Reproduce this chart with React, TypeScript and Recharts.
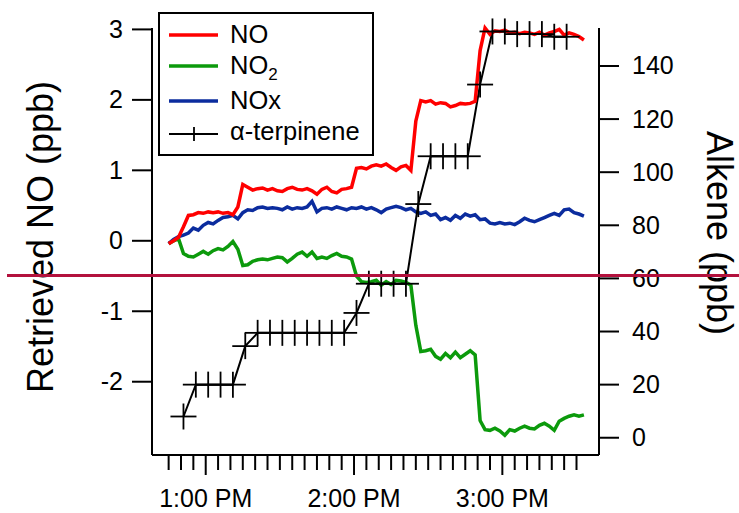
import React from 'react';
import { LineChart, Line, XAxis, YAxis } from 'recharts';

// minutes after 12:00 PM
const TIME = [
  45, 47, 49, 51, 53, 55, 57, 59, 61, 63,
  65, 67, 69, 71, 73, 75, 77, 79, 81, 83,
  85, 87, 89, 91, 93, 95, 97, 99, 101, 103,
  105, 107, 109, 111, 113, 115, 117, 119, 121, 123,
  125, 127, 129, 131, 133, 135, 137, 139, 141, 143,
  145, 147, 149, 151, 153, 155, 157, 159, 161, 163,
  165, 167, 169, 171, 173, 175, 177, 179, 181, 183,
  185, 187, 189, 191, 193, 195, 197, 199, 201, 203,
  205, 207, 209, 211, 213,
];

const NO = [
  -0.04, 0.0, 0.05, 0.2, 0.36, 0.37, 0.4, 0.39, 0.41, 0.4,
  0.41, 0.39, 0.4, 0.37, 0.48, 0.8, 0.76, 0.72, 0.74, 0.75,
  0.72, 0.74, 0.71, 0.7, 0.74, 0.76, 0.73, 0.72, 0.74, 0.71,
  0.66, 0.73, 0.76, 0.7, 0.68, 0.73, 0.74, 0.76, 1.03, 1.04,
  1.02, 1.06, 1.08, 1.06, 1.09, 1.04, 1.0, 1.05, 1.07, 1.0,
  1.7, 1.99, 1.97, 1.99, 1.94, 1.96, 1.95, 1.9, 1.92, 1.95,
  1.94, 1.95, 1.98, 2.7, 3.02, 2.93, 2.98, 2.97, 2.99, 2.95,
  2.96, 2.94, 2.96, 2.95, 2.93, 2.96, 2.92, 2.95, 2.97, 3.0,
  2.92, 2.95, 2.93, 2.9, 2.85,
];

const NO2 = [
  -0.04, 0.0, 0.03, -0.18, -0.22, -0.23, -0.19, -0.15, -0.19, -0.14,
  -0.11, -0.13, -0.08, -0.01, -0.12, -0.35, -0.34, -0.29, -0.27, -0.26,
  -0.27, -0.25, -0.23, -0.24, -0.3, -0.25, -0.19, -0.16, -0.22, -0.16,
  -0.25, -0.23, -0.25, -0.21, -0.18, -0.22, -0.23, -0.26, -0.5, -0.58,
  -0.59, -0.58, -0.56, -0.63, -0.58, -0.62, -0.56, -0.57, -0.59, -0.63,
  -1.2, -1.57, -1.56, -1.54, -1.64, -1.68, -1.6, -1.66, -1.58, -1.66,
  -1.61, -1.56, -1.62, -2.55, -2.68, -2.69, -2.66, -2.7, -2.76, -2.68,
  -2.7, -2.66, -2.63, -2.66, -2.67, -2.62, -2.59, -2.63, -2.69, -2.56,
  -2.52, -2.49, -2.47, -2.49, -2.47,
];

const NOX = [
  -0.04, 0.02, 0.06, 0.08, 0.11, 0.18, 0.15, 0.22, 0.26, 0.24,
  0.29, 0.33, 0.34, 0.36, 0.31, 0.4, 0.44, 0.43, 0.47, 0.48,
  0.46, 0.47, 0.46, 0.44, 0.48, 0.45, 0.47, 0.46, 0.48, 0.56,
  0.41, 0.46, 0.47, 0.45, 0.48, 0.46, 0.44, 0.47, 0.46, 0.48,
  0.45, 0.47, 0.44, 0.4, 0.45, 0.47, 0.49, 0.47, 0.44, 0.46,
  0.41, 0.39, 0.41, 0.36, 0.38, 0.3, 0.33, 0.29, 0.36, 0.32,
  0.38, 0.35, 0.37, 0.3, 0.31, 0.25, 0.24, 0.26, 0.24, 0.25,
  0.23, 0.27, 0.32, 0.29, 0.27, 0.3, 0.33, 0.36, 0.39, 0.36,
  0.44, 0.45, 0.4, 0.38, 0.35,
];

// alkene injections, one reading every 5 min (ppb)
const ALKENE_TIME = [
  51, 56, 61, 66, 71, 76, 81, 86, 91, 96, 101, 106, 111, 116, 121, 126,
  131, 136, 141, 146, 151, 156, 161, 166, 171, 176, 181, 186, 191, 196, 201, 206,
];
const ALKENE = [
  8, 20, 20, 20, 20, 34.5, 39.5, 39.5, 39.5, 39.5, 39.5, 39.5, 39.5, 39.5, 47, 58,
  58, 58, 58, 88, 106, 106, 106, 106, 133, 153, 153, 152, 152, 152, 151, 151,
];

const X_TICKS = [
  45, 50, 55, 60, 65, 70, 75, 80, 85, 90, 95, 100, 105, 110, 115, 120, 125,
  130, 135, 140, 145, 150, 155, 160, 165, 170, 175, 180, 185, 190, 195, 200, 205, 210,
];
const HOUR_LABELS: Record<number, string> = { 60: '1:00 PM', 120: '2:00 PM', 180: '3:00 PM' };
const LEFT_TICKS = [-2, -1, 0, 1, 2, 3];
const RIGHT_TICKS = [0, 20, 40, 60, 80, 100, 120, 140];

const traceRows = TIME.map((t, i) => ({ t, no: NO[i], no2: NO2[i], nox: NOX[i] }));
const alkeneRows = ALKENE_TIME.map((t, i) => ({ t, alkene: ALKENE[i] }));

const FONT = '"Liberation Sans", Arial, Helvetica, sans-serif';
const RED = '#ff0000';
const GREEN = '#0c9a0c';
const BLUE = '#0b2c9e';

const TimeTick = ({ x, y, payload }: any) => {
  const label = HOUR_LABELS[payload.value];
  return (
    <g>
      <line x1={x} y1={y} x2={x} y2={y + (label ? 20 : 15)} stroke="#000" strokeWidth={2} />
      {label && (
        <text x={x} y={y + 52} textAnchor="middle" fontFamily={FONT} fontSize={25} fill="#000">
          {label}
        </text>
      )}
    </g>
  );
};

const LeftTick = ({ x, y, payload }: any) => (
  <g>
    <line x1={x - 20} y1={y} x2={x} y2={y} stroke="#000" strokeWidth={2} />
    <text x={x - 29} y={y + 8.5} textAnchor="end" fontFamily={FONT} fontSize={25} fill="#000">
      {payload.value}
    </text>
  </g>
);

const RightTick = ({ x, y, payload }: any) => (
  <g>
    <line x1={x} y1={y} x2={x + 20} y2={y} stroke="#000" strokeWidth={2} />
    <text x={x + 33} y={y + 8.5} textAnchor="start" fontFamily={FONT} fontSize={25} fill="#000">
      {payload.value}
    </text>
  </g>
);

const LeftTitle = () => (
  <text x={53} y={237} transform="rotate(-90 53 237)" textAnchor="middle" fontFamily={FONT} fontSize={36} fill="#000">
    Retrieved NO (ppb)
  </text>
);

const RightTitle = () => (
  <text x={707} y={233} transform="rotate(90 707 233)" textAnchor="middle" fontFamily={FONT} fontSize={36} fill="#000">
    Alkene (ppb)
  </text>
);

const PlusDot = ({ cx, cy }: any) => (
  <g stroke="#000" strokeWidth={1.8}>
    <line x1={cx - 13} y1={cy} x2={cx + 13} y2={cy} />
    <line x1={cx} y1={cy - 13} x2={cx} y2={cy + 13} />
  </g>
);

const LegendBox = () => {
  const rows = [
    { color: RED, y: 23, base: 31, text: <tspan>NO</tspan> },
    {
      color: GREEN,
      y: 54,
      base: 62,
      text: (
        <>
          <tspan>NO</tspan>
          <tspan dy={6} fontSize={17}>2</tspan>
        </>
      ),
    },
    { color: BLUE, y: 89, base: 97, text: <tspan>NOx</tspan> },
  ];
  return (
    <svg width={216} height={144} style={{ position: 'absolute', left: 158, top: 12 }}>
      <rect x={1} y={1} width={214} height={142} fill="#fff" stroke="#000" strokeWidth={2} />
      {rows.map((r, i) => (
        <g key={i}>
          <line x1={11} y1={r.y} x2={60} y2={r.y} stroke={r.color} strokeWidth={3.5} />
          <text x={72} y={r.base} fontFamily={FONT} fontSize={25.5} fill="#000">
            {r.text}
          </text>
        </g>
      ))}
      <line x1={11} y1={122} x2={60} y2={122} stroke="#000" strokeWidth={2} />
      <line x1={36} y1={115} x2={36} y2={129} stroke="#000" strokeWidth={1.8} />
      <text x={72} y={128} fontFamily={FONT} fontSize={25.5} fill="#000">
        α-terpinene
      </text>
    </svg>
  );
};

const App: React.FC = () => {
  return (
    <div style={{ position: 'absolute', left: 0, top: 0, width: 739, height: 513, background: '#fff' }}>
      <LineChart width={739} height={513} data={traceRows} margin={{ top: 28, right: 0, bottom: 0, left: 0 }}>
        <XAxis
          dataKey="t"
          type="number"
          domain={[38.27, 219.1]}
          ticks={X_TICKS}
          interval={0}
          height={58}
          tickSize={0}
          tickMargin={0}
          tickLine={false}
          tick={<TimeTick />}
          axisLine={{ stroke: '#000', strokeWidth: 2 }}
        />
        <YAxis
          yAxisId="left"
          width={152}
          domain={[-3.04, 3.02]}
          ticks={LEFT_TICKS}
          interval={0}
          tickSize={0}
          tickMargin={0}
          tickLine={false}
          tick={<LeftTick />}
          axisLine={{ stroke: '#000', strokeWidth: 2 }}
          label={<LeftTitle />}
        />
        <YAxis
          yAxisId="right"
          orientation="right"
          width={140}
          domain={[-6.5, 154.3]}
          ticks={RIGHT_TICKS}
          interval={0}
          tickSize={0}
          tickMargin={0}
          tickLine={false}
          tick={<RightTick />}
          axisLine={{ stroke: '#000', strokeWidth: 2 }}
          label={<RightTitle />}
        />
        <Line yAxisId="left" dataKey="no2" stroke={GREEN} strokeWidth={3.5} dot={false} isAnimationActive={false} />
        <Line yAxisId="left" dataKey="nox" stroke={BLUE} strokeWidth={3.5} dot={false} isAnimationActive={false} />
        <Line
          yAxisId="right"
          data={alkeneRows}
          dataKey="alkene"
          stroke="#000"
          strokeWidth={2}
          dot={<PlusDot />}
          isAnimationActive={false}
        />
        <Line yAxisId="left" dataKey="no" stroke={RED} strokeWidth={3.5} dot={false} isAnimationActive={false} />
      </LineChart>
      <LegendBox />
      <div style={{ position: 'absolute', left: 7, top: 273.5, width: 732, height: 3.5, background: '#b3113d' }} />
    </div>
  );
};

export default App;
